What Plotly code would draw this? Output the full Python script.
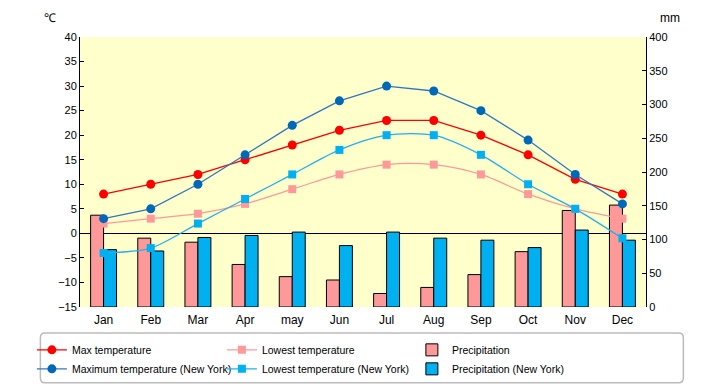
import plotly.graph_objects as go

months = ["Jan", "Feb", "Mar", "Apr", "may", "Jun", "Jul", "Aug", "Sep", "Oct", "Nov", "Dec"]
max_temp = [8, 10, 12, 15, 18, 21, 23, 23, 20, 16, 11, 8]
low_temp = [2, 3, 4, 6, 9, 12, 14, 14, 12, 8, 5, 3]
precip = [136, 102, 96, 63, 45, 40, 20, 29, 48, 82, 143, 151]
max_ny = [3, 5, 10, 16, 22, 27, 30, 29, 25, 19, 12, 6]
low_ny = [-4, -3, 2, 7, 12, 17, 20, 20, 16, 10, 5, -1]
precip_ny = [85, 83, 103, 106, 111, 91, 111, 102, 99, 88, 114, 99]

temp_ticks = list(range(-15, 41, 5))
mm_ticks = list(range(0, 401, 50))

fig = go.Figure()
fig.add_trace(go.Scatter(x=months, y=max_temp, name="Max temperature", yaxis="y2",
                         mode="lines+markers", line=dict(color="#FF0000", width=1.3),
                         marker=dict(symbol="circle", size=9, color="#FF0000")))
fig.add_trace(go.Scatter(x=months, y=low_temp, name="Lowest temperature", yaxis="y2",
                         mode="lines+markers", line=dict(color="#FF9999", width=1.3, shape="spline", smoothing=0.8),
                         marker=dict(symbol="square", size=8, color="#FF9999")))
fig.add_trace(go.Bar(x=months, y=precip, name="Precipitation", yaxis="y",
                     marker=dict(color="#FF9999", line=dict(color="#000000", width=1))))
fig.add_trace(go.Scatter(x=months, y=max_ny, name="Maximum temperature (New York)", yaxis="y2",
                         mode="lines+markers", line=dict(color="#2E78C2", width=1.3),
                         marker=dict(symbol="circle", size=9, color="#0068B8")))
fig.add_trace(go.Scatter(x=months, y=low_ny, name="Lowest temperature (New York)", yaxis="y2",
                         mode="lines+markers", line=dict(color="#20B0EE", width=1.3, shape="spline", smoothing=0.8),
                         marker=dict(symbol="square", size=8, color="#00B0F0")))
fig.add_trace(go.Bar(x=months, y=precip_ny, name="Precipitation (New York)", yaxis="y",
                     marker=dict(color="#00B0F0", line=dict(color="#000000", width=1))))

font = "Liberation Sans"
fig.update_layout(
    width=712, height=377,
    margin=dict(l=72, r=74, t=29, b=78, autoexpand=False),
    paper_bgcolor="#FFFFFF",
    plot_bgcolor="#FFFFCC",
    font=dict(family=font, size=11, color="#000000"),
    barmode="group", bargap=0.45, bargroupgap=0,
    xaxis=dict(showline=False, ticks="", showgrid=False, tickfont=dict(size=12),
               range=[-0.5, len(months) - 0.5], ticklabelstandoff=4),
    yaxis=dict(side="right", range=[0, 400], tickvals=mm_ticks, showgrid=False, zeroline=False,
               showline=True, linecolor="#000000", linewidth=1, ticks="inside", ticklen=4,
               tickcolor="#000000"),
    yaxis2=dict(side="left", overlaying="y", range=[-15, 40], tickvals=temp_ticks, showgrid=False,
                zeroline=True, zerolinecolor="#000000", zerolinewidth=1,
                showline=True, linecolor="#000000", linewidth=1, ticks="inside", ticklen=4,
                tickcolor="#000000"),
    showlegend=True,
    legend=dict(orientation="h", x=-0.085, xanchor="left", y=-0.105, yanchor="top",
                bgcolor="rgba(0,0,0,0)", borderwidth=0, itemwidth=30,
                entrywidth=145, entrywidthmode="pixels",
                font=dict(family=font, size=10.5), traceorder="normal"),
    annotations=[
        dict(text="℃", xref="paper", yref="paper", x=-0.053, y=1.07, xanchor="center", yanchor="middle",
             showarrow=False, font=dict(size=12)),
        dict(text="mm", xref="paper", yref="paper", x=1.043, y=1.07, xanchor="center", yanchor="middle",
             showarrow=False, font=dict(size=12)),
    ],
    shapes=[
        dict(type="path", xref="paper", yref="paper",
             path="M -0.062,-0.096 L 1.058,-0.096 Q 1.066,-0.096 1.066,-0.115 L 1.066,-0.262 "
                  "Q 1.066,-0.281 1.058,-0.281 L -0.062,-0.281 Q -0.070,-0.281 -0.070,-0.262 "
                  "L -0.070,-0.115 Q -0.070,-0.096 -0.062,-0.096 Z",
             line=dict(color="#BBBBBB", width=1.5), fillcolor="rgba(0,0,0,0)", layer="below"),
    ],
)

fig.write_html("out.html")
